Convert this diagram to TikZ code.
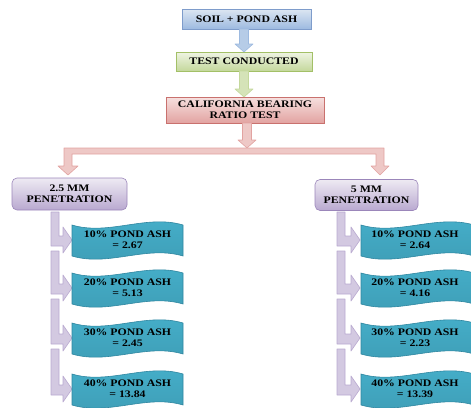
\documentclass[tikz,border=0pt]{standalone}
\usepackage{fontspec}
\setmainfont{Liberation Serif}[FakeStretch=1.18]

\definecolor{soilA}{HTML}{DCE6F2}
\definecolor{soilB}{HTML}{9DBAE0}
\definecolor{soilC}{HTML}{7E9CCB}
\definecolor{testA}{HTML}{EFF4E3}
\definecolor{testB}{HTML}{C4D89C}
\definecolor{testC}{HTML}{A3C067}
\definecolor{cbrA}{HTML}{F6E0DF}
\definecolor{cbrB}{HTML}{E2A3A1}
\definecolor{cbrC}{HTML}{C9716E}
\definecolor{penA}{HTML}{EEEAF3}
\definecolor{penB}{HTML}{B9A9D0}
\definecolor{penC}{HTML}{9B86BA}
\definecolor{tealA}{HTML}{45AFCA}
\definecolor{tealB}{HTML}{C2E8F1}
\definecolor{tealC}{HTML}{2F86A0}

\def\sw{8}
\tikzset{
  my text/.style={font=\bfseries\fontsize{10}{11}\selectfont,align=center,inner sep=0pt},
  my box/.style n args={3}{my text,draw=#3,line width=0.6pt,top color=#1,bottom color=#2},
  my arrow/.style n args={2}{fill=#1,draw=#2,line width=0.6pt,line join=round},
  my wave/.style={top color=tealA,middle color=tealB,bottom color=tealA!90!black,draw=tealC,line width=0.6pt}
}
\newcommand\blockdown[4]{%
  \draw[#4] (#1-4.5,#2) -- (#1+4.5,#2) -- (#1+4.5,#3-8) -- (#1+9,#3-8) -- (#1,#3)
    -- (#1-9,#3-8) -- (#1-4.5,#3-8) -- cycle;}

\begin{document}
\begin{tikzpicture}[x=1pt,y=-1pt]
\clip (0,0) rectangle (471,407);
% top boxes
\node[my box={soilA}{soilB}{soilC},minimum width=129,minimum height=20] (soil) at (246.5,19) {SOIL + POND ASH};
\node[my box={testA}{testB}{testC},minimum width=136,minimum height=19] (test) at (244,61.5) {TEST CONDUCTED};
\node[my box={cbrA}{cbrB}{cbrC},minimum width=158,minimum height=26] (cbr) at (245,110) {CALIFORNIA BEARING\\RATIO TEST};
\blockdown{244}{29}{52}{my arrow={soilA!40!soilB}{soilB}}
\blockdown{244}{71}{97}{my arrow={testA!40!testB}{testB}}
\blockdown{247}{123}{148}{my arrow={cbrA!60!cbrB}{cbrB}}
% branches
\draw[my arrow={cbrA!60!cbrB}{cbrB}]
   (64,148) -- (384,148) -- (384,166) -- (389,166) -- (380,175) -- (371,166) -- (376,166)
   -- (376,154) -- (72,154) -- (72,166) -- (78,166) -- (68,175) -- (58,166) -- (64,166) -- cycle;
\node[my box={penA}{penB}{penC},rounded corners=5,minimum width=115,minimum height=32] (pen1) at (69.5,194) {2.5 MM\\PENETRATION};
\node[my box={penA}{penB}{penC},rounded corners=5,minimum width=103,minimum height=31] (pen2) at (366.5,195) {5 MM\\PENETRATION};
% bent arrows
\foreach \yt/\yc in {212/240,251/288,299/338,349/389}
  \foreach \a/\t in {51/72,337/360}
    \draw[my arrow={penA!50!penB}{penB}] (\a,\yt) -- (\a+\sw,\yt) -- (\a+\sw,\yc-4) -- (\t-9,\yc-4)
      -- (\t-9,\yc-13) -- (\t,\yc) -- (\t-9,\yc+13) -- (\t-9,\yc+6) -- (\a,\yc+6) -- cycle;
% results
\foreach \yc/\p/\vl/\vr [count=\i] in {240/10/2.67/2.64,288/20/5.13/4.16,338/30/2.45/2.23,389/40/13.84/13.39}
{
  \foreach \x/\w in {72/111,361/113}
    \shade[my wave] (\x,\yc-15) .. controls (\x+0.33*\w,\yc-4) and (\x+0.67*\w,\yc-26) .. (\x+\w,\yc-15)
      -- (\x+\w,\yc+16) .. controls (\x+0.67*\w,\yc+5) and (\x+0.33*\w,\yc+27) .. (\x,\yc+16) -- cycle;
  \node[my text] (l\i) at (127.5,\yc) {\p\% POND ASH\\= \vl};
  \node[my text] (r\i) at (415,\yc) {\p\% POND ASH\\= \vr};
}
\end{tikzpicture}
\end{document}
